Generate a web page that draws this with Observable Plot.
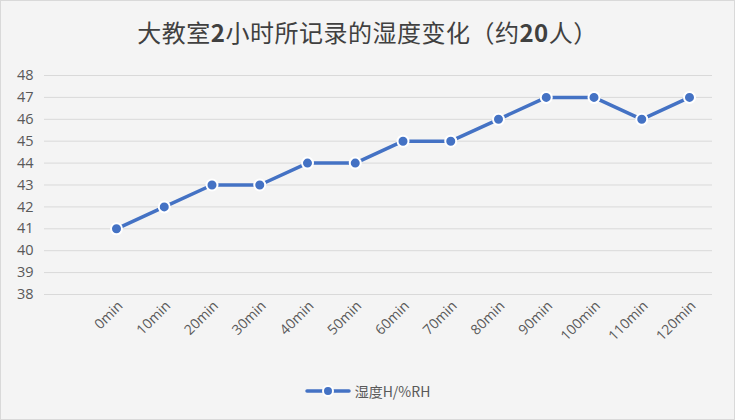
<!DOCTYPE html>
<html>
<head>
<meta charset="utf-8">
<script src="https://cdn.jsdelivr.net/npm/d3@7"></script>
<script src="https://cdn.jsdelivr.net/npm/@observablehq/plot@0.6"></script>
<style>
  html, body { margin: 0; padding: 0; background: #ffffff; }
  #wrap {
    width: 733px; height: 418px; background: #f4f4f4;
    border: 1px solid #d9d9d9; position: relative; overflow: hidden;
    font-family: "Noto Sans CJK SC", "Noto Sans", sans-serif;
  }
  #title {
    position: absolute; left: 0; top: 13px; width: 733px; text-align: center;
    font-size: 24px; color: #404040; font-family: "Noto Sans CJK SC", sans-serif;
    letter-spacing: 0.5px;
  }
  #title b { font-weight: 700; }
  #chart { position: absolute; left: 0; top: 58px; }
  #legend {
    position: absolute; top: 380px; left: 0; width: 733px;
    display: flex; justify-content: center; align-items: center;
    font-size: 14px; color: #595959;
  }
  #legend svg { margin-right: 4px; }
</style>
</head>
<body>
<div id="wrap">
  <div id="title">大教室<b>2</b>小时所记录的湿度变化（约<b>20</b>人）</div>
  <div id="chart"></div>
  <div id="legend"></div>
</div>
<script>
const categories = ["0min","10min","20min","30min","40min","50min","60min","70min","80min","90min","100min","110min","120min"];
const humidity = [41, 42, 43, 43, 44, 44, 45, 45, 46, 47, 47, 46, 47];
const yTicks = [38, 39, 40, 41, 42, 43, 44, 45, 46, 47, 48];
const seriesName = "湿度H/%RH";
const color = "#4472C4";

const data = categories.map((c, i) => ({time: c, value: humidity[i]}));

const chart = Plot.plot({
  width: 733,
  height: 300,
  marginLeft: 43,
  marginRight: 22,
  marginTop: 16,
  marginBottom: 65,
  style: {background: "transparent", fontFamily: "'Open Sans', 'Noto Sans', sans-serif", fontSize: "14px", color: "#595959"},
  x: {type: "point", domain: categories, range: [115, 688], padding: 0, round: false, label: null},
  y: {domain: [38, 48], label: null},
  marks: [
    Plot.gridY(yTicks, {stroke: "#d9d9d9", strokeOpacity: 1, strokeWidth: 1}),
    Plot.axisY(yTicks, {tickSize: 0, tickPadding: 11, fill: "#595959", fontSize: 14.5, label: null}),
    Plot.axisX({tickSize: 0, tickRotate: -45, tickPadding: 9, dx: 4, fill: "#595959", fontSize: 14, label: null}),
    Plot.line(data, {x: "time", y: "value", stroke: color, strokeWidth: 3.5}),
    Plot.dot(data, {x: "time", y: "value", r: 5.5, fill: color, stroke: "white", strokeWidth: 2})
  ]
});
document.getElementById("chart").appendChild(chart);

// legend
const leg = document.getElementById("legend");
const sw = d3.create("svg").attr("width", 46).attr("height", 16);
sw.append("line").attr("x1", 2).attr("x2", 44).attr("y1", 8).attr("y2", 8)
  .attr("stroke", color).attr("stroke-width", 3.5).attr("stroke-linecap", "round");
sw.append("circle").attr("cx", 23).attr("cy", 8).attr("r", 5)
  .attr("fill", color).attr("stroke", "white").attr("stroke-width", 2);
leg.appendChild(sw.node());
const span = document.createElement("span");
span.textContent = seriesName;
leg.appendChild(span);
</script>
</body>
</html>
